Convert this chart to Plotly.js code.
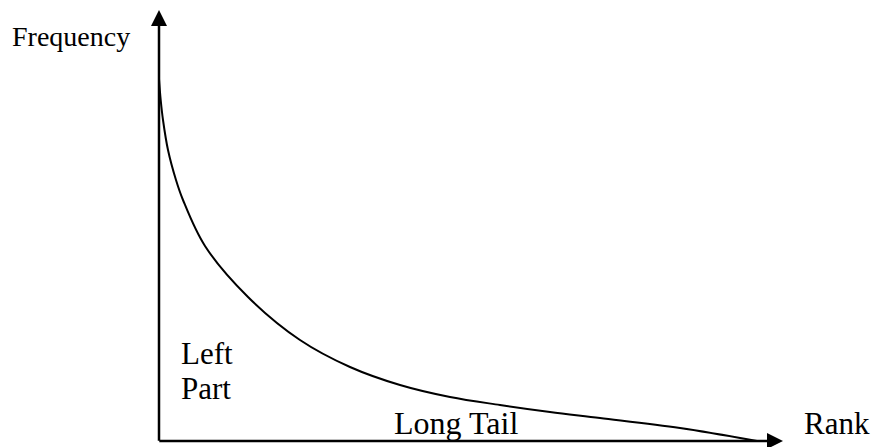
<!DOCTYPE html>
<html>
<head>
<meta charset="utf-8">
<script src="https://cdn.plot.ly/plotly-3.0.1.min.js"></script>
<style>html,body{margin:0;padding:0;background:#fff;}#chart{width:872px;height:447px;}</style>
</head>
<body>
<div id="chart"></div>
<script>
// Long-tail curve (rank vs frequency, arbitrary units)
const rank = [0, 1.7, 4, 9, 17, 24, 46, 89, 141, 191, 241, 291, 341, 391, 441, 521, 598];
const frequency = [362, 341, 321, 291, 261, 241, 195, 144, 101, 74, 56, 44, 36, 29, 23, 13, 0];
const xAxisLabel = "Rank";
const yAxisLabel = "Frequency";
const regionLabels = ["Left", "Part", "Long Tail"];

const W = 872, H = 447;
const M = {l: 159, r: 89, t: 10, b: 6};
const xMax = W - M.l - M.r, yMax = H - M.t - M.b;
const px = x => (x - M.l) / xMax;
const py = y => (H - M.b - y) / yMax;
const serif = "'Liberation Serif', 'Times New Roman', serif";

const trace = {
  x: rank, y: frequency, type: 'scatter', mode: 'lines',
  line: {color: '#000', width: 2, shape: 'spline', smoothing: 1},
  hoverinfo: 'skip'
};

function label(text, x, y, size, anchor) {
  return {text: text, xref: 'paper', yref: 'paper', x: px(x), y: py(y),
    xanchor: anchor, yanchor: 'middle', showarrow: false,
    font: {family: serif, size: size, color: '#000'}};
}

const arrowCommon = {text: '', showarrow: true, arrowhead: 2, arrowsize: 1.28,
  arrowwidth: 2.5, arrowcolor: '#000', xref: 'x', yref: 'y', axref: 'x', ayref: 'y', standoff: 0, startstandoff: 0};

const layout = {
  width: W, height: H,
  margin: M,
  paper_bgcolor: '#fff', plot_bgcolor: '#fff',
  showlegend: false,
  xaxis: {range: [0, xMax], visible: false, fixedrange: true},
  yaxis: {range: [0, yMax], visible: false, fixedrange: true},
  annotations: [
    Object.assign({}, arrowCommon, {x: xMax, y: 0, ax: -1.2, ay: 0}),
    Object.assign({}, arrowCommon, {x: 0, y: yMax, ax: 0, ay: -1.2}),
    label(yAxisLabel, 10, 37, 28, 'left'),
    label(xAxisLabel, 802, 423, 31, 'left'),
    label(regionLabels[0], 179, 353, 31, 'left'),
    label(regionLabels[1], 179, 388, 31, 'left'),
    label(regionLabels[2], 455.5, 423, 32, 'center')
  ]
};

Plotly.newPlot('chart', [trace], layout, {displayModeBar: false, staticPlot: true});
</script>
</body>
</html>
